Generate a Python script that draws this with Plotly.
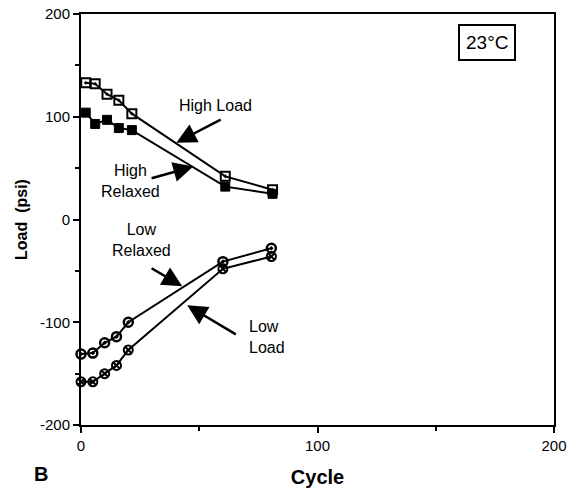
import plotly.graph_objects as go

# ---- data ----
high_cycles = [2, 6, 11, 16, 21.5, 61, 81]
high_load = [133, 132, 122, 116, 103, 42, 29]
high_relaxed = [104, 93, 97, 89, 87, 32, 25]

low_cycles = [0, 5, 10, 15, 20, 60, 80.5]
low_relaxed = [-131, -130, -120, -114, -100, -41, -28]
low_load = [-158, -158, -150, -142, -127, -48, -36]

x_tickvals = [0, 100, 200]
x_ticktext = ["0", "100", "200"]
y_tickvals = [-200, -100, 0, 100, 200]
y_ticktext = ["-200", "-100", "0", "100", "200"]

FONT = "Liberation Sans, Arial, sans-serif"

fig = go.Figure()

line = dict(color="black", width=2)
fig.add_trace(go.Scatter(x=high_cycles, y=high_load, mode="lines+markers", name="High Load",
                         line=line, cliponaxis=False,
                         marker=dict(symbol="square-open-dot", size=9, color="black",
                                     line=dict(color="black", width=2))))
fig.add_trace(go.Scatter(x=high_cycles, y=high_relaxed, mode="lines+markers", name="High Relaxed",
                         line=line, cliponaxis=False,
                         marker=dict(symbol="square", size=9, color="black",
                                     line=dict(color="black", width=1))))
fig.add_trace(go.Scatter(x=low_cycles, y=low_relaxed, mode="lines+markers", name="Low Relaxed",
                         line=line, cliponaxis=False,
                         marker=dict(symbol="circle-open-dot", size=9, color="black",
                                     line=dict(color="black", width=2.5))))
fig.add_trace(go.Scatter(x=low_cycles, y=low_load, mode="lines+markers", name="Low Load",
                         line=line, cliponaxis=False,
                         marker=dict(symbol="circle-x-open", size=9, color="black",
                                     line=dict(color="black", width=2))))

annotations = []
# text labels
labels = [
    ("High Load", 56.8, 110.7, "center", "center"),
    ("High<br>Relaxed", 20.8, 37.9, "center", "center"),
    ("Low<br>Relaxed", 25.4, -20.4, "center", "center"),
    ("Low<br>Load", 70.3, -114.6, "left", "left"),
]
for txt, x, y, xa, al in labels:
    annotations.append(dict(text=txt, x=x, y=y, xref="x", yref="y", showarrow=False,
                            xanchor=xa, yanchor="middle", align=al,
                            font=dict(family=FONT, size=16, color="black")))
# arrows (head, tail)
arrows = [
    ((40.3, 74.8), (59.7, 98)),
    ((47.5, 51.5), (29.2, 39.8)),
    ((42.8, -65), (29.2, -46.6)),
    ((44.9, -83.5), (66.1, -112.6)),
]
for (hx, hy), (tx, ty) in arrows:
    annotations.append(dict(text="", x=hx, y=hy, ax=tx, ay=ty, xref="x", yref="y",
                            axref="x", ayref="y", showarrow=True, arrowhead=2,
                            arrowsize=1.6, arrowwidth=2.5, arrowcolor="black"))
# temperature box
annotations.append(dict(text="23°C", x=487, y=42, xref="paper", yref="paper",
                        showarrow=False, font=dict(family=FONT, size=19, color="black"),
                        bordercolor="black", borderwidth=2, borderpad=6, bgcolor="white"))
annotations.append(dict(text="<b>B</b>", x=41, y=474, showarrow=False,
                        font=dict(family=FONT, size=20, color="black")))

# convert pixel-placed annotations (23°C and B) to paper coordinates
L, R, T, B = 81, 21, 14, 67
W, H = 575, 492
pw, ph = W - L - R, H - T - B
for a in annotations[-2:]:
    px, py = a["x"], a["y"]
    a["x"] = (px - L) / pw
    a["y"] = 1 - (py - T) / ph
    a["xref"] = "paper"
    a["yref"] = "paper"
    a["xanchor"] = "center"
    a["yanchor"] = "middle"

fig.update_layout(
    width=W, height=H,
    margin=dict(l=L, r=R, t=T, b=B, pad=0),
    paper_bgcolor="white", plot_bgcolor="white",
    showlegend=False,
    font=dict(family=FONT, color="black"),
    annotations=annotations,
    xaxis=dict(range=[0, 200], tickvals=x_tickvals, ticktext=x_ticktext,
               automargin=False,
               showgrid=False, zeroline=False, showline=True, linecolor="black",
               linewidth=2, mirror=True, ticks="outside", ticklen=6, tickwidth=2,
               tickcolor="black", tickfont=dict(family=FONT, size=15, color="black"),
               minor=dict(tickvals=[50, 150], ticks="outside", ticklen=4, tickwidth=1.5,
                          tickcolor="black"),
               title=dict(text="<b>Cycle</b>", standoff=17,
                          font=dict(family=FONT, size=20, color="black"))),
    yaxis=dict(range=[-200, 200], tickvals=y_tickvals, ticktext=y_ticktext,
               automargin=False,
               showgrid=False, zeroline=False, showline=True, linecolor="black",
               linewidth=2, mirror=True, ticks="outside", ticklen=6, tickwidth=2,
               tickcolor="black", tickfont=dict(family=FONT, size=15, color="black"),
               minor=dict(tickvals=[-150, -50, 50, 150], ticks="outside", ticklen=4,
                          tickwidth=1.5, tickcolor="black"),
               title=dict(text="<b>Load  (psi)</b>", standoff=8,
                          font=dict(family=FONT, size=16, color="black"))),
)

fig.write_html("out.html")
